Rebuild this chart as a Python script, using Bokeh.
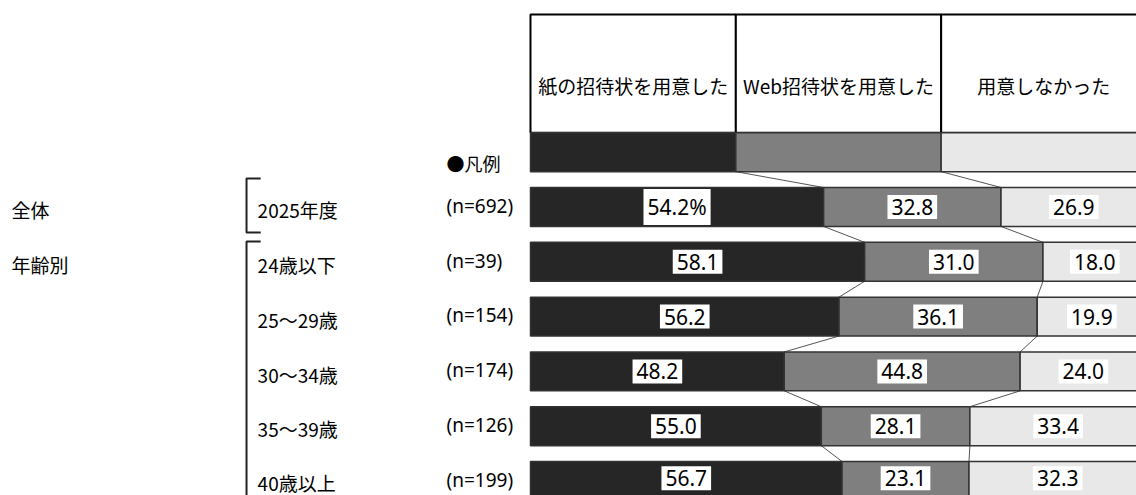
from bokeh.plotting import figure
from bokeh.models import Range1d
from bokeh.core.properties import value
from bokeh.embed import file_html
from bokeh.resources import INLINE

# ---- data ----
series_names = ["紙の招待状を用意した", "Web招待状を用意した", "用意しなかった"]
group_labels = ["全体", "年齢別"]
categories = ["2025年度", "24歳以下", "25～29歳", "30～34歳", "35～39歳", "40歳以上"]
n_labels = ["(n=692)", "(n=39)", "(n=154)", "(n=174)", "(n=126)", "(n=199)"]
paper = [54.2, 58.1, 56.2, 48.2, 55.0, 56.7]
web = [32.8, 31.0, 36.1, 44.8, 28.1, 23.1]
none_ = [26.9, 18.0, 19.9, 24.0, 33.4, 32.3]
legend_title = "●凡例"

colors = ["#262626", "#7f7f7f", "#e8e8e8"]
JP = value("Noto Sans CJK JP")
NUM = value("Noto Sans")

p = figure(width=1136, height=495, output_backend="svg", toolbar_location=None,
           x_range=Range1d(-86.04, 98.38), y_range=Range1d(6.265, -2.768),
           min_border=0)
p.axis.visible = False
p.grid.visible = False
p.outline_line_color = None
p.background_fill_color = "white"

H = 0.71  # bar thickness in row units

# rows: 0 = legend, 1..6 = data rows
rows_vals = [[1, 1, 1]] + [[a, b, c] for a, b, c in zip(paper, web, none_)]
bounds = []
for vals in rows_vals:
    tot = sum(vals)
    c = [0.0]
    for v in vals:
        c.append(c[-1] + v / tot * 100.0)
    bounds.append(c)

# header boxes
hdr_top = -2.513
hdr_bot = -H / 2
p.quad(left=[bounds[0][k] for k in range(3)], right=[bounds[0][k + 1] for k in range(3)],
       top=[hdr_top] * 3, bottom=[hdr_bot] * 3, fill_color="white",
       line_color="black", line_width=2)
p.text(x=[(bounds[0][k] + bounds[0][k + 1]) / 2 for k in range(3)], y=[-1.217] * 3,
       text=series_names, text_font=JP, text_font_size="19px",
       text_align="center", text_baseline="middle", text_color="black")

# connector lines between consecutive rows
x0s, y0s, x1s, y1s = [], [], [], []
for i in range(len(bounds) - 1):
    for k in (1, 2):
        x0s.append(bounds[i][k]); y0s.append(i + H / 2)
        x1s.append(bounds[i + 1][k]); y1s.append(i + 1 - H / 2)
p.segment(x0=x0s, y0=y0s, x1=x1s, y1=y1s, line_color="#555555", line_width=1)

# stacked bars
for k in range(3):
    p.quad(left=[b[k] for b in bounds], right=[b[k + 1] for b in bounds],
           top=[i - H / 2 for i in range(len(bounds))],
           bottom=[i + H / 2 for i in range(len(bounds))],
           fill_color=colors[k], line_color="#333333", line_width=1.5)

# value labels
lx, ly, lt = [], [], []
for k, ser in enumerate([paper, web, none_]):
    for i, v in enumerate(ser):
        b = bounds[i + 1]
        lx.append((b[k] + b[k + 1]) / 2)
        ly.append(min(i + 1, 5.95))
        txt = f"{v:.1f}"
        if i == 0 and k == 0:
            txt += "%"
        lt.append(txt)
p.text(x=lx, y=ly, text=lt, text_font=NUM, text_font_size="21px",
       text_align="center", text_baseline="middle", text_color="black",
       background_fill_color="white", padding=4)

# left side labels
rows_idx = list(range(1, len(categories) + 1))
p.text(x=[-84.25] * 2, y=[1.05, 2.05], text=group_labels, text_font=JP,
       text_font_size="19px", text_baseline="middle", text_color="black")
p.text(x=[-44.3] * len(categories), y=[min(r + 0.05, 6.03) for r in rows_idx],
       text=categories, text_font=JP, text_font_size="19px",
       text_baseline="middle", text_color="black")
p.text(x=[-13.64] * len(n_labels), y=[min(r - 0.02, 6.0) for r in rows_idx],
       text=n_labels, text_font=NUM, text_font_size="19px",
       text_baseline="middle", text_color="black")
p.text(x=[-13.64], y=[0.19], text=[legend_title], text_font=JP,
       text_font_size="18px", text_baseline="middle", text_color="black")

# brackets
bx, tx = -46.1, -43.8
p.multi_line(xs=[[tx, bx, bx, tx], [tx, bx, bx]],
             ys=[[0.48, 0.48, 1.466, 1.466], [1.63, 1.63, 6.4]],
             line_color="#222222", line_width=2)

open("out.html", "w").write(file_html(p, INLINE))
